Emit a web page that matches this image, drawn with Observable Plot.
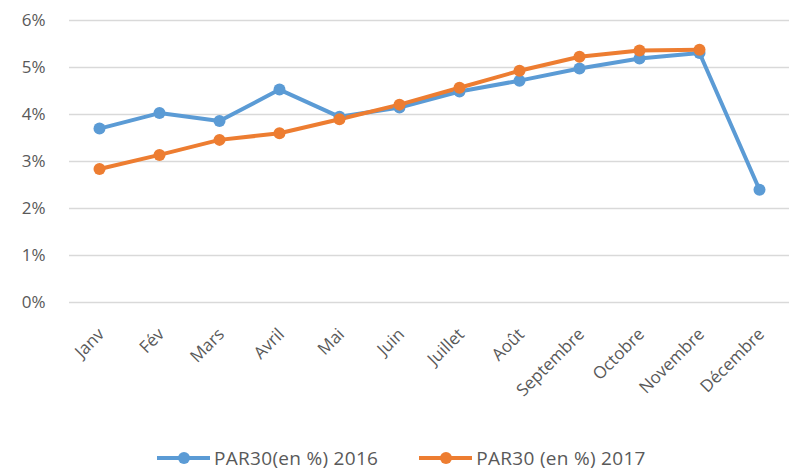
<!DOCTYPE html>
<html>
<head>
<meta charset="utf-8">
<script src="https://cdn.jsdelivr.net/npm/d3@7"></script>
<script src="https://cdn.jsdelivr.net/npm/@observablehq/plot@0.6"></script>
<style>
  html, body { margin: 0; background: #fff; font-family: "Open Sans", sans-serif; overflow: hidden; }
  #chart svg { display: block; }
  #legend { box-sizing: border-box; height: 50px; display: flex; align-items: center; padding-left: 157px; padding-top: 24px; color: #595959; font-size: 19px; letter-spacing: 0.3px; line-height: 26px; }
  .item { display: flex; align-items: center; margin-right: 41px; }
  .item svg { margin-right: 4px; }
</style>
</head>
<body>
<div id="chart"></div>
<div id="legend"></div>
<script>
const months = ["Janv","Fév","Mars","Avril","Mai","Juin","Juillet","Août","Septembre","Octobre","Novembre","Décembre"];
const values2016 = [3.70, 4.03, 3.86, 4.53, 3.95, 4.15, 4.49, 4.72, 4.98, 5.19, 5.31, 2.40];
const values2017 = [2.84, 3.14, 3.46, 3.60, 3.90, 4.21, 4.57, 4.93, 5.23, 5.36, 5.38, null];
const seriesNames = ["PAR30(en %) 2016", "PAR30 (en %) 2017"];
const seriesColors = ["#5b9bd5", "#ed7d31"];
const yTicks = [0, 1, 2, 3, 4, 5, 6];

const data = [];
months.forEach((m, i) => {
  if (values2016[i] != null) data.push({month: m, value: values2016[i], series: seriesNames[0]});
});
months.forEach((m, i) => {
  if (values2017[i] != null) data.push({month: m, value: values2017[i], series: seriesNames[1]});
});

const chart = Plot.plot({
  width: 792,
  height: 421,
  marginLeft: 69,
  marginRight: 3,
  marginTop: 20,
  marginBottom: 119,
  style: {fontFamily: "Open Sans, sans-serif", background: "#fff"},
  x: {type: "point", domain: months, padding: 0.5, axis: null},
  y: {domain: [0, 6], axis: null},
  color: {domain: seriesNames, range: seriesColors},
  marks: [
    Plot.ruleY(yTicks, {stroke: "#d9d9d9", strokeWidth: 1.5}),
    Plot.text(yTicks, {x: null, y: d => d, text: d => d + "%", frameAnchor: "left", textAnchor: "end", dx: -24, fill: "#595959", fontSize: 17}),
    Plot.text(months, {x: d => d, text: d => d, frameAnchor: "bottom", textAnchor: "end", lineAnchor: "middle", rotate: -45, dy: 29, dx: 2, fill: "#595959", fontSize: 17}),
    Plot.line(data, {x: "month", y: "value", z: "series", stroke: "series", strokeWidth: 4, curve: "linear"}),
    Plot.dot(data, {x: "month", y: "value", fill: "series", r: 6})
  ]
});
document.getElementById("chart").appendChild(chart);

const legend = document.getElementById("legend");
seriesNames.forEach((name, i) => {
  const item = document.createElement("div");
  item.className = "item";
  item.innerHTML = `<svg width="53" height="14"><line x1="0" y1="7" x2="53" y2="7" stroke="${seriesColors[i]}" stroke-width="4"/><circle cx="27" cy="7" r="6" fill="${seriesColors[i]}"/></svg><span>${name}</span>`;
  legend.appendChild(item);
});
</script>
</body>
</html>
